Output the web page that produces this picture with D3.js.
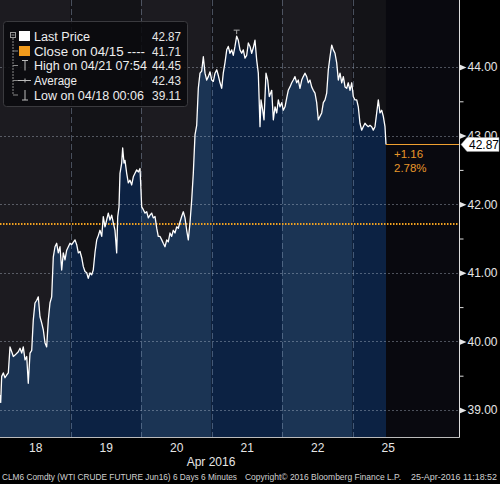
<!DOCTYPE html>
<html><head><meta charset="utf-8">
<script src="https://cdn.jsdelivr.net/npm/d3@7"></script>
<style>
html,body{margin:0;padding:0;background:#000;}
svg{display:block;font-family:"Liberation Sans",Arial,sans-serif;}
</style></head>
<body>
<svg id="chart" width="500" height="484"></svg>
<script>
// ---- data ----
const dayLabels = ["18","19","20","21","22","25"];
const yTicks = [39, 40, 41, 42, 43, 44];
const yMinorTicks = [39.5, 40.5, 41.5, 42.5, 43.5];
// time in trading days since 18-Apr 00:00
const times = [0,0.010,0.024,0.047,0.071,0.095,0.118,0.142,0.166,0.189,0.213,0.260,0.284,0.308,0.330,0.355,0.379,0.401,0.426,0.450,
0.472,0.496,0.521,0.543,0.567,0.591,0.614,0.638,0.662,0.685,0.709,0.733,0.756,0.780,0.804,0.827,0.851,0.875,0.898,0.922,
0.946,0.993,1.017,1.064,1.088,1.111,1.135,1.159,1.182,1.206,1.230,1.252,1.277,1.301,1.323,1.348,1.372,1.394,1.418,1.443,
1.465,1.489,1.513,1.536,1.560,1.584,1.607,1.631,1.655,1.670,1.688,1.702,1.726,1.740,1.759,1.773,1.797,1.820,1.844,1.868,
1.891,1.915,1.939,1.962,1.986,2.010,2.033,2.057,2.081,2.104,2.128,2.152,2.174,2.199,2.223,2.245,2.270,2.294,2.316,2.340,
2.365,2.387,2.411,2.435,2.458,2.482,2.506,2.529,2.553,2.577,2.600,2.624,2.648,2.671,2.695,2.719,2.742,2.766,2.790,2.813,
2.837,2.861,2.884,2.908,2.932,2.955,2.979,3.003,3.026,3.050,3.074,3.096,3.121,3.145,3.167,3.191,3.216,3.238,3.262,3.287,
3.309,3.333,3.357,3.380,3.404,3.428,3.451,3.475,3.499,3.522,3.546,3.570,3.593,3.617,3.641,3.664,3.688,3.702,3.726,3.745,
3.773,3.797,3.820,3.854,3.877,3.901,3.925,3.948,3.972,3.996,4.018,4.043,4.067,4.089,4.113,4.138,4.160,4.184,4.209,4.231,
4.255,4.280,4.302,4.326,4.350,4.373,4.397,4.421,4.444,4.468,4.492,4.515,4.539,4.563,4.586,4.610,4.634,4.657,4.681,4.705,
4.728,4.752,4.776,4.799,4.823,4.847,4.870,4.894,4.918,4.940,4.965,4.989,5.011,5.035,5.060,5.082,5.106,5.130,5.153,5.177,
5.201,5.224,5.248,5.272,5.295,5.319,5.343,5.366,5.390,5.414,5.437,5.461,5.475];
const prices = [39.22,39.11,39.49,39.54,39.47,39.51,39.54,39.92,39.85,39.78,39.80,39.85,39.90,39.83,39.92,39.73,39.78,39.39,39.83,39.87,
40.31,40.56,40.60,40.65,40.36,40.27,40.17,39.98,39.92,40.31,40.56,40.65,41.23,41.38,41.43,41.29,41.38,41.04,41.29,41.19,
41.33,41.43,41.41,41.48,41.41,41.29,41.31,41.22,41.09,41.02,41.00,40.92,41.00,40.97,41.04,41.30,41.48,41.54,41.62,41.53,
41.82,41.67,41.77,41.87,41.77,41.84,41.73,41.62,41.29,41.82,41.96,42.45,42.60,42.82,42.60,42.64,42.45,42.31,42.35,42.28,
42.40,42.45,42.50,42.47,42.52,41.96,41.92,41.87,41.89,41.80,41.84,41.87,41.80,41.82,41.65,41.53,41.53,41.48,41.43,41.38,
41.48,41.45,41.58,41.53,41.62,41.58,41.67,41.65,41.74,41.82,41.89,41.80,41.62,41.48,41.73,42.06,42.45,43.01,43.15,43.69,
43.91,43.94,44.15,43.91,43.81,43.86,43.93,43.81,43.79,43.91,43.96,43.88,43.77,43.69,43.91,44.06,44.25,44.30,44.20,44.25,
44.17,44.30,44.45,44.39,44.25,44.20,44.25,44.13,44.17,44.35,44.30,44.20,44.28,44.39,44.10,43.91,43.13,43.52,43.37,43.23,
43.91,43.81,43.57,43.66,43.23,43.42,43.33,43.52,43.42,43.48,43.37,43.42,43.55,43.66,43.71,43.77,43.81,43.86,43.77,43.81,
43.69,43.81,43.86,43.91,43.86,43.77,43.81,43.71,43.66,43.62,43.48,43.23,43.28,43.33,43.48,43.52,43.62,43.96,44.15,44.32,
44.25,44.20,44.06,43.81,43.91,43.77,43.86,43.71,43.69,43.77,43.66,43.77,43.57,43.52,43.52,43.42,43.18,43.08,43.13,43.18,
43.15,43.13,43.15,43.13,43.08,43.13,43.33,43.52,43.33,43.37,43.28,43.13,42.87];
const lastPrice = 42.87;
const closePrice = 41.71;
const highPrice = 44.45, highTime = 3.357;
const legendLabels = ["Last Price","Close on 04/15 ----","High on 04/21 07:54","Average","Low on 04/18 00:06"];
const legendValues = ["42.87","41.71","44.45","42.43","39.11"];
const changeText = ["+1.16","2.78%"];
const footer = ["CLM6 Comdty (WTI CRUDE FUTURE  Jun16) 6 Days 6 Minutes","Copyright\u00a9 2016 Bloomberg Finance L.P.","25-Apr-2016 11:18:52"];

// ---- drawing ----
const svg = d3.select("#chart");
const W = 459, H = 437;
const x = d3.scaleLinear().domain([0, 6]).range([0, 423]);
const y = d3.scaleLinear().domain([39, 44]).range([410, 67]);
const data = times.map((t, i) => ({t, p: prices[i]}));
const tEnd = times[times.length - 1];

svg.append("rect").attr("width", 500).attr("height", 484).attr("fill", "#000");
svg.append("rect").attr("width", W).attr("height", H).attr("fill", "#09090f");

const upperCol = ["#1c1b20", "#131317"];
const blueCol = ["#1b3454", "#0c2243"];
dayLabels.forEach((d, i) => {
  const x0 = x(i), x1 = Math.min(x(i + 1), x(tEnd));
  svg.append("rect").attr("x", x0).attr("y", 0).attr("width", Math.max(0, x1 - x0)).attr("height", H)
    .attr("fill", upperCol[i % 2]);
});

const area = d3.area().x(d => x(d.t)).y0(H).y1(d => y(d.p));
svg.append("clipPath").attr("id", "ac").append("path").attr("d", area(data));
const ga = svg.append("g").attr("clip-path", "url(#ac)");
dayLabels.forEach((d, i) => {
  ga.append("rect").attr("x", x(i)).attr("y", 0).attr("width", x(i + 1) - x(i)).attr("height", H)
    .attr("fill", blueCol[i % 2]);
});

// grid
svg.append("g").selectAll("line").data(yTicks).join("line")
  .attr("x1", 0).attr("x2", W).attr("y1", d => Math.round(y(d)) + 0.5).attr("y2", d => Math.round(y(d)) + 0.5)
  .attr("stroke", "rgba(190,200,215,0.38)").attr("stroke-dasharray", "2,2");
svg.append("g").selectAll("line").data([1, 2, 3, 4, 5]).join("line")
  .attr("x1", d => Math.round(x(d)) + 0.5).attr("x2", d => Math.round(x(d)) + 0.5).attr("y1", 0).attr("y2", H)
  .attr("stroke", "rgba(160,180,205,0.38)").attr("stroke-dasharray", "6,3");

// close line
svg.append("line").attr("x1", 0).attr("x2", W).attr("y1", y(closePrice)).attr("y2", y(closePrice))
  .attr("stroke", "#f0a020").attr("stroke-width", 2).attr("stroke-dasharray", "1.5,1.5");

// price line
svg.append("path").datum(data).attr("fill", "none").attr("stroke", "#ffffff").attr("stroke-width", 1.3)
  .attr("stroke-linejoin", "round")
  .attr("d", d3.line().x(d => x(d.t)).y(d => y(d.p)));

// high marker
const hx = x(highTime), hy = y(highPrice);
svg.append("path").attr("d", `M${hx - 3},${hy - 6}H${hx + 3}M${hx},${hy - 6}V${hy - 2}`)
  .attr("stroke", "#aaa").attr("stroke-width", 1).attr("fill", "none");

// last price line
svg.append("line").attr("x1", x(tEnd)).attr("x2", W).attr("y1", y(lastPrice)).attr("y2", y(lastPrice))
  .attr("stroke", "#f0a030").attr("stroke-width", 1.2);
svg.selectAll("text.chg").data(changeText).join("text").attr("class", "chg")
  .attr("x", x(tEnd) + 8).attr("y", (d, i) => y(lastPrice) + 13 + i * 14.5)
  .attr("fill", "#e8962a").attr("font-size", 11.5).text(d => d);

// axes frame
svg.append("line").attr("x1", 0).attr("x2", W + 0.5).attr("y1", H + 0.5).attr("y2", H + 0.5).attr("stroke", "#bbb");
svg.append("line").attr("x1", W + 0.5).attr("x2", W + 0.5).attr("y1", 0).attr("y2", H + 0.5).attr("stroke", "#ddd");

// right axis
const yAxis = svg.append("g").attr("transform", `translate(${W + 0.5},0)`)
  .call(d3.axisRight(y).tickValues(yTicks).tickSize(0).tickPadding(8).tickFormat(d3.format(".2f")));
yAxis.select(".domain").remove();
yAxis.selectAll("text").attr("fill", "#e6e6e6").attr("font-size", 12).attr("font-family", "Liberation Sans, Arial, sans-serif");
yAxis.selectAll(".tick").append("path").attr("d", "M0,-3L7,0L0,3Z").attr("fill", "#e6e6e6");
const yMinor = svg.append("g").attr("transform", `translate(${W + 0.5},0)`)
  .call(d3.axisRight(y).tickValues(yMinorTicks).tickSize(4).tickFormat(""));
yMinor.select(".domain").remove();
yMinor.selectAll("line").attr("stroke", "#ddd");

// last price label box (covers lower part of the 43.00 label, as in the original)
const ly = y(lastPrice);
svg.append("path").attr("d", `M461,${ly}L467,${ly - 7}H499V${ly + 7}H467Z`).attr("fill", "#fff").attr("stroke", "#999").attr("stroke-width", 0.5);
svg.append("text").attr("x", 469).attr("y", ly + 4.5).attr("font-size", 12).attr("fill", "#000").text("42.87");

// bottom axis
const xAxis = svg.append("g").attr("transform", `translate(0,${H})`)
  .call(d3.axisBottom(x).tickValues(dayLabels.map((d, i) => i + 0.5)).tickSize(0).tickPadding(6)
    .tickFormat((d, i) => dayLabels[i]));
xAxis.select(".domain").remove();
xAxis.selectAll("text").attr("fill", "#e6e6e6").attr("font-size", 12).attr("font-family", "Liberation Sans, Arial, sans-serif");
svg.append("text").attr("x", 211).attr("y", 466).attr("text-anchor", "middle").attr("fill", "#e6e6e6")
  .attr("font-size", 12).text("Apr 2016");

// footer
const fx = [[2, 235], [245, 156], [411, 86]];
svg.selectAll("text.ft").data(footer).join("text").attr("class", "ft")
  .attr("x", (d, i) => fx[i][0]).attr("y", 479.5).attr("font-size", 9).attr("fill", "#d0d0d0")
  .attr("textLength", (d, i) => fx[i][1]).attr("lengthAdjust", "spacingAndGlyphs").text(d => d);

// legend
const lg = svg.append("g");
lg.append("rect").attr("x", 3.5).attr("y", 21.5).attr("width", 184).attr("height", 85).attr("rx", 3)
  .attr("fill", "rgba(10,10,14,0.88)").attr("stroke", "#3a3a3e");
const rowY = [36, 51, 65.5, 80.5, 95];
const labelW = [56, 111, 113, 43, 110];
lg.append("rect").attr("x", 10.5).attr("y", 32.5).attr("width", 5).attr("height", 5).attr("fill", "none").attr("stroke", "#999");
lg.append("line").attr("x1", 11.5).attr("x2", 14.5).attr("y1", 35).attr("y2", 35).attr("stroke", "#999");
lg.append("line").attr("x1", 13).attr("x2", 13).attr("y1", 38).attr("y2", rowY[4]).attr("stroke", "#888").attr("stroke-dasharray", "2,1");
rowY.slice(1).forEach(r => lg.append("line").attr("x1", 13).attr("x2", 18).attr("y1", r).attr("y2", r).attr("stroke", "#888"));
lg.append("rect").attr("x", 19).attr("y", rowY[0] - 5).attr("width", 11).attr("height", 10).attr("fill", "#fff");
lg.append("rect").attr("x", 19).attr("y", rowY[1] - 5).attr("width", 11).attr("height", 10).attr("fill", "#f29b1c");
lg.append("path").attr("d", `M22,${rowY[2] - 5}H28M25,${rowY[2] - 5}V${rowY[2] + 5}`).attr("stroke", "#bbb").attr("fill", "none");
lg.append("path").attr("d", `M18,${rowY[3]}H31M25,${rowY[3] - 2}V${rowY[3] + 2}`).attr("stroke", "#bbb").attr("fill", "none");
lg.append("path").attr("d", `M22,${rowY[4] + 5}H28M25,${rowY[4] - 5}V${rowY[4] + 5}`).attr("stroke", "#bbb").attr("fill", "none");
lg.selectAll("text.ll").data(legendLabels).join("text").attr("class", "ll")
  .attr("x", 34).attr("y", (d, i) => rowY[i] + 4.5).attr("font-size", 12.5)
  .attr("textLength", (d, i) => labelW[i]).attr("lengthAdjust", "spacingAndGlyphs")
  .attr("fill", "#eeeeee").text(d => d);
lg.selectAll("text.lv").data(legendValues).join("text").attr("class", "lv")
  .attr("x", 152).attr("y", (d, i) => rowY[i] + 4.5).attr("font-size", 12.5)
  .attr("textLength", 29).attr("lengthAdjust", "spacingAndGlyphs").attr("fill", "#e6e6e6").text(d => d);
</script>
</body></html>
